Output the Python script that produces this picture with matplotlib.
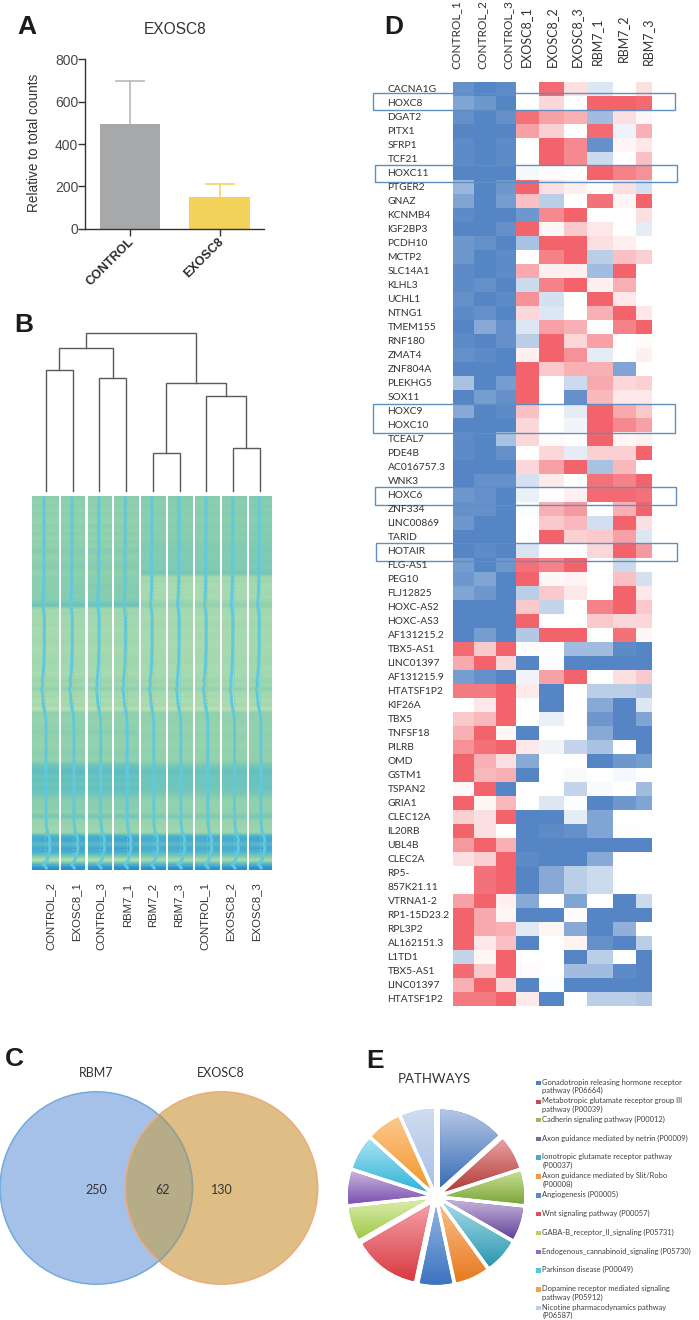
import numpy as np
import matplotlib
matplotlib.use("Agg")
import matplotlib.pyplot as plt
from matplotlib.colors import LinearSegmentedColormap, to_rgb
from matplotlib.patches import Circle, Rectangle

# ---------- panel A data ----------
bar_labels = ["CONTROL", "EXOSC8"]
bar_values = [495, 148]
bar_errors = [204, 65]
# ---------- panel B data ----------
sample_labels = ["CONTROL_2", "EXOSC8_1", "CONTROL_3", "RBM7_1", "RBM7_2", "RBM7_3", "CONTROL_1", "EXOSC8_2", "EXOSC8_3"]
merges = [(0, 1, 120.4), (2, 3, 112.7), (9, 10, 142.4), (4, 5, 37.7), (7, 8, 42.4), (6, 13, 94.4), (12, 14, 107.4), (11, 15, 157.4)]
bands_first = [5, 4.5, 5, 4.2, 5, 4.5, 4.2, 5, 4.5, 5, 4.2, 5, 4.5, 5.3, 5, 4.5, 5, 5.3, 5, 4.5,
               5, 5, 5.3, 5, 5.3, 5, 5.6, 6.8,
               3.2, 3.5, 3.2, 3.2, 3.5, 2.8, 3.2, 3.2, 3.5, 3.2, 2.8, 3.2, 3.2, 3.5, 3.2, 3.2, 2.8, 3.2, 4, 3.2, 4.6,
               3, 3.2, 2.6, 3.2, 1.6, 4.8,
               4.5, 4.2, 4.5, 4.5, 5, 4.5, 4.5, 4.2, 4.5, 5, 4.5, 4.5, 6.2,
               7, 7.4, 6.5, 7, 6.5, 7, 6.5,
               5.8, 5, 5, 5, 4.5, 6.3, 4.2, 4.2, 3.7, 3.7,
               8.5, 9, 7.5, 9, 8.5, 6, 2, 8, 10]
bands_last = [5.4, 5, 5.4, 5, 5.4, 5, 5, 5.4, 5, 5.4, 5, 5.4, 5.4, 5.7, 5.4, 5.4, 5.7, 5.4, 5.7, 6.2,
              3.2, 3.5, 2.9, 3.2, 3.2, 2.9, 3.8, 4.6,
              3.2, 3.2, 2.9, 3.2, 3.5, 2.9, 3.2, 3.2, 3.2, 2.9, 3.2, 3.2, 3.2, 3.5, 3.2, 2.9, 3.2, 3.2, 4, 3.2, 4.6,
              3, 3.2, 2.6, 3.2, 1.6, 4.8,
              4.5, 4.5, 4.5, 4.2, 4.5, 4.5, 4.5, 4.2, 4.5, 4.5, 4.5, 4.5, 5.8,
              6.5, 7, 6.5, 6.5, 6.5, 6.5, 6,
              5.4, 4.5, 4.5, 4.5, 4.5, 6, 4.2, 4.2, 3.7, 3.7,
              8.5, 9, 7.5, 9, 8, 6, 3, 8, 10]
column_tint = [0, 0.2, 0.1, 0.2, 0, 0, -0.1, 0, 0.2]
trace_shift = [-1.3, -1.2, -1.5, -1.3, -1.1, -1.4, -1.2, -1.6, -1.3, -1.2, -1.5, -1.4, -1.3, -1.2, -1.6, -1.5, -1.3, -1.4, -1.6, -1.5,
               -1.4, -1.5, -1.8, -1.7, -1.9, -2.1, -2.3, -2.8,
               -1.9, -1.4, -1.1, -1.0, -1.2, -1.0, -1.1, -1.3, -1.0, -1.1, -1.2, -1.4, -1.6, -1.4, -1.7, -2.0, -2.2, -2.6, -3.2, -2.6, -3.8,
               -3.0, -2.6, -2.4, -2.0, -1.2, -0.4,
               0.2, 0.5, 0.6, 0.7, 0.7, 0.8, 0.7, 0.7, 0.8, 0.7, 0.6, 0.7, 0.7,
               0.7, 0.7, 0.8, 0.7, 0.6, 0.7, 0.7,
               0.7, 0.6, 0.7, 0.8, 0.8, 0.7, 0.8, 0.9, 1.4, 2.2,
               3.6, 4.6, 3.6, 4.8, 3.8, 2.5, 2.0, -2.0, 1.0]
# ---------- panel C data ----------
venn_names = ["RBM7", "EXOSC8"]
venn_counts = [250, 62, 130]
# ---------- panel D data ----------
heat_columns = ["CONTROL_1", "CONTROL_2", "CONTROL_3", "EXOSC8_1", "EXOSC8_2", "EXOSC8_3", "RBM7_1", "RBM7_2", "RBM7_3"]
genes = ["CACNA1G", "HOXC8", "DGAT2", "PITX1", "SFRP1", "TCF21", "HOXC11", "PTGER2", "GNAZ", "KCNMB4", "IGF2BP3",
         "PCDH10", "MCTP2", "SLC14A1", "KLHL3", "UCHL1", "NTNG1", "TMEM155", "RNF180", "ZMAT4", "ZNF804A", "PLEKHG5",
         "SOX11", "HOXC9", "HOXC10", "TCEAL7", "PDE4B", "AC016757.3", "WNK3", "HOXC6", "ZNF334", "LINC00869", "TARID",
         "HOTAIR", "FLG-AS1", "PEG10", "FLJ12825", "HOXC-AS2", "HOXC-AS3", "AF131215.2", "TBX5-AS1", "LINC01397",
         "AF131215.9", "HTATSF1P2", "KIF26A", "TBX5", "TNFSF18", "PILRB", "OMD", "GSTM1", "TSPAN2", "GRIA1", "CLEC12A",
         "IL20RB", "UBL4B", "CLEC2A", "RP5-", "857K21.11", "VTRNA1-2", "RP1-15D23.2", "RPL3P2", "AL162151.3", "L1TD1",
         "TBX5-AS1", "LINC01397", "HTATSF1P2"]
expression = [
    [-9, -10, -9.5, 0, 9.5, 2, -2, 0, 2],
    [-7.5, -8.5, -10, 0, 2.5, 0, 10, 10, 9.5],
    [-9, -10, -9, 9, 6, 5, -5.5, 2, 0.5],
    [-10, -10, -10, 6, 3, 0, 9.5, -1, 5],
    [-9.5, -10, -9.5, 0, 10, 7.5, -9, 0.7, 1.5],
    [-9.5, -10, -9.5, 0, 10, 7.5, -3, 0, 4],
    [-10, -10, -10, -0.5, 0.3, 0, 10, 8, 7],
    [-6, -10, -8.5, 10, 2, 1, 0.2, 2, -2.5],
    [-7.5, -10, -8, 4, -4, 0, 9, 0.7, 10],
    [-9.5, -10, -10, -8.5, 7.5, 10, 0, 0, 2],
    [-10, -10, -9, 10, 0.5, 3.5, 1.5, 0, -1.5],
    [-8.5, -9, -10, -5, 10, 10, 2, 1, 0],
    [-8.5, -10, -9.5, 0, 8, 10, -4, 4, 3],
    [-9.5, -10, -9.5, 5.5, 1, 1, -5.5, 10, 0],
    [-9.5, -9, -10, -3, 8, 10, 1, 5, 0],
    [-9, -10, -9.5, 7, -2.5, 0, 10, 1.5, 0],
    [-9.5, -9, -10, 2.5, -2, 0, 5, 10, 1.5],
    [-10, -7, -9, -2, 6, 5, 0, 8, 10],
    [-9.5, -10, -9, -4, 10, 2.5, 6, 0, 0.3],
    [-9, -9.5, -10, 1, 10, 7, -1.5, 0, 1],
    [-10, -10, -10, 10, 3.5, 5, 5, -7.5, 0],
    [-5, -10, -8, 10, 0, -3, 5.5, 2.5, 3],
    [-10, -8, -9, 10, 0, -9, 4.5, 1.5, 1.5],
    [-7, -10, -9.5, 4, 0, -1.5, 10, 5.5, 3.5],
    [-10, -10, -10, 2.5, 0, -0.8, 10, 7.5, 6],
    [-9.5, -10, -5, 2.5, 0.3, 0, 10, 0.7, 1],
    [-9.5, -10, -9, 0, 2.5, -1.5, 3, 3, 10],
    [-10, -10, -10, 2.5, 6, 10, -5, 4.5, 0],
    [-10, -9, -9, -2.5, 1.3, 0, 9, 8, 10],
    [-8.5, -9, -10, -1.2, 0, 1, 9.5, 9.5, 9],
    [-9, -9, -10, -0.3, 5, 6.5, 0, 5, 10],
    [-8.5, -10, -10, 0, 3.5, 4.5, -2.7, 10, 2],
    [-10, -10, -10, 0, 10, 3, 3.5, 6, -2],
    [-10, -9.5, -10, -2.2, 0, 0, 2.5, 10, 6.5],
    [-8, -10, -8.5, 9, 8, 10, 0, -3, 0],
    [-8.5, -7.5, -10, 10, 0.5, 0.8, 0, 4, -2.5],
    [-7.5, -8.5, -10, -4, 3.5, 1.5, 0, 10, 1.5],
    [-10, -10, -10, 3.5, -3.5, 0, 8, 10, 3.5],
    [-10, -10, -10, 10, 0, 0, 3.5, 2.5, 2.5],
    [-10, -8, -10, -4.5, 10, 10, 0, 9, 0.5],
    [9.5, 3.5, 10, 0.3, 0, -5.5, -5.5, -9.5, -10],
    [5.5, 10, 2.5, -10, -0.2, -10, -10, -10, -10],
    [-8, -9, -10, -0.8, 6, 10, 0, 2, 3.5],
    [8.5, 8.5, 10, 1.3, -10, 0, -4, -4, -4.5],
    [0, 1.5, 10, 0, -10, 0, -7, -10, -2],
    [3.5, 4.5, 10, 0, -1.2, 0, -8.5, -10, -7.5],
    [5, 10, 0.5, -10, 0, 0, -7, -10, -10],
    [7, 9, 10, 1.5, -0.8, -3.5, -5, 0, -10],
    [10, 5, 2, -7, 0, 0, -10, -8.5, -8],
    [10, 4.5, 5, -10, 0, -0.4, 0, -0.6, 0],
    [0.4, 10, -10, 0, 0, -3.5, -0.4, 0, -5.5],
    [10, 0.7, 4.5, 0, -2, -0.2, -10, -8.5, -7.5],
    [3, 2, 10, -10, -10, -1.5, -7.5, 0, 0],
    [10, 2, 0, -10, -9.5, -9, -7.5, 0.2, 0.1],
    [6.5, 10, 5, -10, -10, -10, -10, -10, -10],
    [2, 3, 10, -9.5, -10, -10, -7, 0, 0],
    [0, 9, 10, -10, -7, -4, -3, 0, 0],
    [0, 9, 10, -10, -7, -4, -3, 0, 0],
    [6, 10, 1, -7, 0, -7.5, 0, -10, -3],
    [10, 5.5, 0.6, -10, -10, 0.3, -10, -10, -10],
    [10, 5.5, 5, -1.8, 0.7, -7, -10, -6.5, 0],
    [10, 1.5, 4, -10, 0, 0.8, -9, -10, -4],
    [-3.5, 0.7, 10, 0, -0.1, -10, -4, 0, -10],
    [9.5, 3.5, 10, 0.3, 0, -5.5, -5.5, -9.5, -10],
    [5, 10, 2.5, -10, -0.2, -10, -10, -10, -10],
    [8.5, 8.5, 10, 1.3, -10, 0, -4, -4, -4.5],
]
# ---------- panel E data ----------
pathway_sizes = [2, 1, 1, 1, 1, 1, 1, 2, 1, 1, 1, 1, 1]
pathway_labels = ["Gonadotropin releasing hormone receptor\npathway (P06664)",
                  "Metabotropic glutamate receptor group III\npathway (P00039)",
                  "Cadherin signaling pathway (P00012)",
                  "Axon guidance mediated by netrin (P00009)",
                  "Ionotropic glutamate receptor pathway\n(P00037)",
                  "Axon guidance mediated by Slit/Robo\n(P00008)",
                  "Angiogenesis (P00005)",
                  "Wnt signaling pathway (P00057)",
                  "GABA-B_receptor_II_signaling (P05731)",
                  "Endogenous_cannabinoid_signaling (P05730)",
                  "Parkinson disease (P00049)",
                  "Dopamine receptor mediated signaling\npathway (P05912)",
                  "Nicotine pharmacodynamics pathway\n(P06587)"]

# ---------- layout and style ----------
W, H = 699, 1320
ARIAL = "Liberation Sans"
CALIBRI = "Lato"
TEXT = "#333335"
fig = plt.figure(figsize=(W / 100, H / 100), dpi=100, facecolor="white")


def axes_px(x0, y0, x1, y1, **kw):
    return fig.add_axes([x0 / W, 1 - y1 / H, (x1 - x0) / W, (y1 - y0) / H], **kw)


over = axes_px(0, 0, W, H, zorder=20)
over.set_xlim(0, W)
over.set_ylim(H, 0)
over.axis("off")
over.patch.set_alpha(0)

for letter, x, y in [("A", 27, 27), ("B", 24, 325), ("C", 14, 1059), ("D", 394, 27), ("E", 375, 1061)]:
    over.text(x, y, letter, family=ARIAL, weight="bold", fontsize=19, color="#1c1c1c", ha="center", va="center")

# ---------- A: bars ----------
ax = axes_px(85.3, 59.3, 264, 228.7)
ax.set_xlim(-0.498, 1.494)
ax.set_ylim(0, 800)
bar_colors = ["#a7a8aa", "#f2d25a"]
err_colors = ["#b2b3b5", "#f0d35f"]
ax.bar(range(2), bar_values, width=0.676, color=bar_colors)
for i in range(2):
    top = bar_values[i] + bar_errors[i]
    ax.vlines(i, bar_values[i], top, color=err_colors[i], lw=1.1)
    ax.hlines(top, i - 0.167, i + 0.167, color=err_colors[i], lw=1.1)
for side in ("top", "right"):
    ax.spines[side].set_visible(False)
for side in ("left", "bottom"):
    ax.spines[side].set_linewidth(1.0)
    ax.spines[side].set_color("#333333")
ax.set_yticks([0, 200, 400, 600, 800])
ax.tick_params(axis="y", length=5, width=1, color="#333333", labelsize=10, labelcolor="#48484a", pad=0)
ax.tick_params(axis="x", length=5, width=1, color="#333333")
ax.set_xticks(range(2))
ax.set_xticklabels([])
for lab in ax.get_yticklabels():
    lab.set_family(ARIAL)
for i, lab in enumerate(bar_labels):
    over.text([132.5, 222][i], 240, lab, family=ARIAL, weight="bold", fontsize=9, color="#2c2c2c", rotation=45,
              rotation_mode="anchor", ha="right", va="center")
over.text(175, 30, "EXOSC8", family=ARIAL, fontsize=11.2, color=TEXT, ha="center", va="center")
over.text(34.5, 142.5, "Relative to total counts", family=ARIAL, fontsize=9.8, color=TEXT, rotation=90, ha="center", va="center")

# ---------- B: dendrogram ----------
ax = axes_px(46, 333.3, 259.7, 490.7)
ax.set_xlim(0, 8)
ax.set_ylim(0, max(m[2] for m in merges))
ax.axis("off")
node_x = {i: float(i) for i in range(len(sample_labels))}
node_h = {i: 0.0 for i in range(len(sample_labels))}
for k, (a, b, h) in enumerate(merges):
    ax.plot([node_x[a], node_x[a], node_x[b], node_x[b]], [node_h[a], h, h, node_h[b]], color="#5a5a5c", lw=1.0, clip_on=False, solid_joinstyle="miter")
    nid = len(sample_labels) + k
    node_x[nid] = (node_x[a] + node_x[b]) / 2
    node_h[nid] = h

# ---------- B: heat strips ----------
strip_edges = [(32, 58.7), (61.3, 85.3), (88, 112), (114.3, 138.7), (141, 165.3), (168, 192.3), (195, 219.3), (221.7, 246), (248.7, 271.7)]
strip_cmap = LinearSegmentedColormap.from_list("strip", [(0, "#cde6b6"), (0.3, "#a8dab0"), (0.5, "#8ccfae"), (0.7, "#66c2c0"), (0.9, "#46a9d2"), (1, "#2f8fcc")])
ax = axes_px(32, 496, 271.7, 870)
ax.axis("off")
n_rows = len(bands_first)
row_mid = np.arange(n_rows) + 0.5
for j, (x0, x1) in enumerate(strip_edges):
    profile = np.array(bands_first if j < 4 else bands_last) + column_tint[j]
    ax.imshow(profile[:, None], cmap=strip_cmap, vmin=0, vmax=10, extent=[x0, x1, n_rows, 0], aspect="auto", interpolation="bilinear")
    centre = (x0 + x1) / 2
    ax.plot([centre] * n_rows, row_mid, color="#68cfdd", lw=0.7, ls=(0, (1.5, 2)))
    ax.plot(centre + np.array(trace_shift), row_mid, color="#62c9dc", lw=2.1, solid_joinstyle="round")
ax.set_xlim(32, 271.7)
ax.set_ylim(n_rows, 0)
for j, lab in enumerate(sample_labels):
    over.text([50, 76.7, 101, 127.7, 152.3, 178.3, 204.3, 230, 256.7][j], 882.5, lab, family=ARIAL, fontsize=8.2, color=TEXT,
              rotation=90, ha="center", va="top")

# ---------- C: Venn ----------
venn_r = 96.2
left_c, right_c, venn_y = (96.3, 221.5, 1188)
over.add_patch(Circle((left_c, venn_y), venn_r, fc="#a6c1e7", ec="none"))
right_fill = Circle((right_c, venn_y), venn_r, fc="#dfbe85", ec="none")
over.add_patch(right_fill)
overlap = Circle((left_c, venn_y), venn_r, fc="#b6ac88", ec="none")
over.add_patch(overlap)
overlap.set_clip_path(right_fill)
over.add_patch(Circle((left_c, venn_y), venn_r, fc="none", ec="#6fabdc", lw=1.1))
over.add_patch(Circle((right_c, venn_y), venn_r, fc="none", ec="#eeaa7c", lw=1.1))
edge_in = Circle((left_c, venn_y), venn_r, fc="none", ec="#9a9f86", lw=1.1)
over.add_patch(edge_in)
edge_in.set_clip_path(right_fill)
for name, x in zip(venn_names, [96, 221]):
    over.text(x, 1073, name, family=CALIBRI, fontsize=9, color=TEXT, ha="center", va="center")
for val, x in zip(venn_counts, [96.5, 162.5, 222]):
    over.text(x, 1190, str(val), family=CALIBRI, fontsize=9, color=TEXT, ha="center", va="center")

# ---------- D: heatmap ----------
col_edges = [453, 474, 496.3, 515.7, 539.3, 564.3, 587, 613.3, 636, 652.3]
heat_cmap = LinearSegmentedColormap.from_list("heat", ["#5585c5", "#ffffff", "#f2636b"])
ax = axes_px(col_edges[0], 81.7, col_edges[-1], 1005.7)
ax.pcolormesh(col_edges, np.arange(len(genes) + 1), np.array(expression), cmap=heat_cmap, vmin=-10, vmax=10, shading="flat", linewidth=0, rasterized=True)
ax.set_xlim(col_edges[0], col_edges[-1])
ax.set_ylim(len(genes), 0)
ax.axis("off")
row_h = (1005.7 - 81.7) / len(genes)
for i, g in enumerate(genes):
    over.text(387.5, 81.7 + row_h * (i + 0.5) + 0.5, g, family=CALIBRI, fontsize=7.4, color=TEXT, ha="left", va="center")
head_x = [456, 482, 507.7, 525.7, 551.7, 577, 596.7, 623, 648]
head_b = [69, 69, 69, 66.7, 66.7, 66.7, 65, 62, 65]
head_size = [8.6, 8.6, 8.6, 9, 9, 9, 9, 9, 9]
for lab, x, b, s in zip(heat_columns, head_x, head_b, head_size):
    over.text(x, b, lab, family=CALIBRI, fontsize=s, color=TEXT, rotation=90, ha="center", va="bottom")
for x0, y0, x1, y1 in [(373.3, 92.7, 675, 110), (375.3, 164.7, 676.7, 182), (373.3, 404, 675, 432.7), (375, 487.3, 676, 504.7), (376, 543.3, 677, 560.7)]:
    over.add_patch(Rectangle((x0, y0), x1 - x0, y1 - y0, fc="none", ec="#5f8fc0", lw=1.0))

# ---------- E: pie ----------
over.text(434, 1079, "PATHWAYS", family=CALIBRI, fontsize=9.5, color=TEXT, ha="center", va="center")
pie_top = ["#b4c7e7", "#eaa0a0", "#c7de92", "#c4b3d9", "#a4dded", "#f9bd8a", "#8fb2e4", "#f4a0a6", "#d9ecaa", "#c9b4df", "#a9e2f2", "#fcc98f", "#d0dcf0"]
pie_bot = ["#3a6db5", "#b23a3a", "#7da63c", "#62449a", "#2e97ad", "#e87a1f", "#3c74c0", "#d93a42", "#a0c84a", "#7c52b0", "#2fb4d8", "#f4962a", "#a8c0e6"]
key_col = ["#4f81bd", "#c0504d", "#9bbb59", "#8064a2", "#4bacc6", "#f79646", "#5b8ac8", "#e0505a", "#b5d56a", "#8f6dbf", "#56c4dc", "#f9a13c", "#bccde8"]
ax = axes_px(348, 1108.7, 524, 1284.7)
wedges, _ = ax.pie(pathway_sizes, explode=[0.13] * len(pathway_sizes), radius=1, startangle=90, counterclock=False,
                   colors=pie_bot, wedgeprops=dict(lw=0))
reach = 1.13
for w, c0, c1 in zip(wedges, pie_top, pie_bot):
    box = w.get_path().get_extents(w.get_patch_transform())
    t = np.linspace(0, 1, 64)[:, None, None]
    grad = (1 - t) * np.array(to_rgb(c0))[None, None, :] + t * np.array(to_rgb(c1))[None, None, :]
    img = ax.imshow(grad, extent=[box.x0, box.x1, box.y0, box.y1], origin="upper", aspect="auto", zorder=3, interpolation="bilinear")
    img.set_clip_path(w)
ax.set_xlim(-reach, reach)
ax.set_ylim(-reach, reach)
ax.set_aspect("equal")
ax.axis("off")

legend_y = [1082, 1101, 1119.3, 1138.3, 1156.7, 1175.7, 1194.7, 1213.3, 1232.3, 1251.3, 1269.7, 1288.7, 1307.3]
for lab, y, c in zip(pathway_labels, legend_y, key_col):
    over.add_patch(Rectangle((535.7, y - 1.5), 5.3, 4.5, fc=c, ec="none"))
    for k, line in enumerate(lab.split("\n")):
        over.text(542.3, y + k * 8.3, line, family=CALIBRI, fontsize=5.4, color="#3f3f41", ha="left", va="center")

fig.savefig("out.png", dpi=100)
